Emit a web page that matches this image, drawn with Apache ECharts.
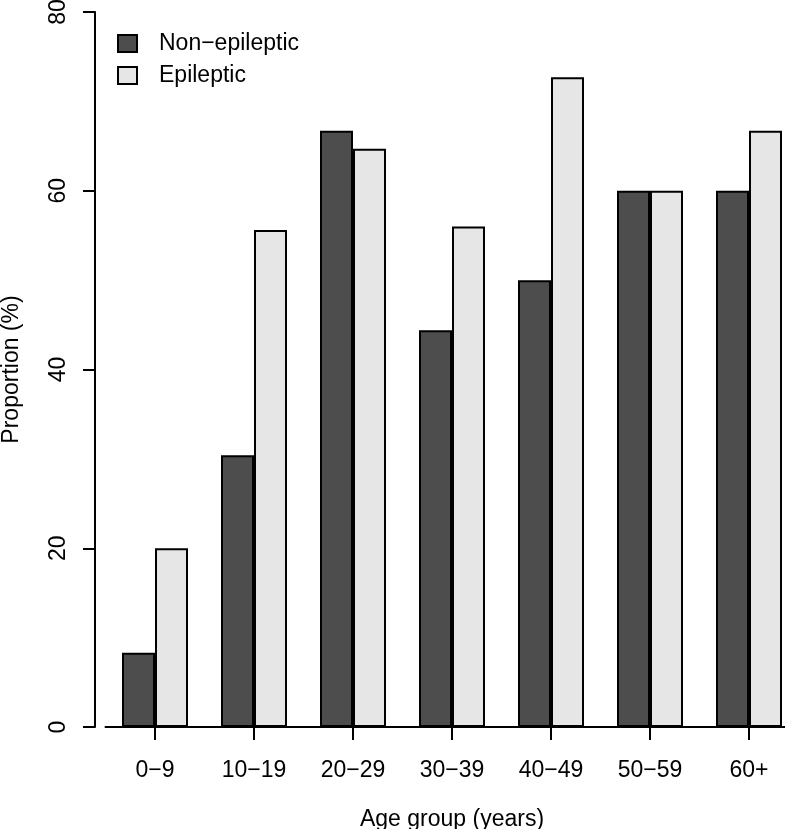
<!DOCTYPE html>
<html>
<head>
<meta charset="utf-8">
<script src="https://cdn.jsdelivr.net/npm/echarts@6/dist/echarts.min.js"></script>
<style>html,body{margin:0;padding:0;background:#fff}#c{width:785px;height:829px}</style>
</head>
<body>
<div id="c"></div>
<script>
var categories = ['0\u22129', '10\u221219', '20\u221229', '30\u221239', '40\u221249', '50\u221259', '60+'];
var nonEpileptic = [8.3, 30.4, 66.7, 44.4, 50.0, 60.0, 60.0];
var epileptic = [20.0, 55.6, 64.7, 56.0, 72.7, 60.0, 66.7];
var seriesNames = ['Non\u2212epileptic', 'Epileptic'];
var yTicks = [0, 20, 40, 60, 80];

var font = 'Liberation Sans, Arial, Helvetica, sans-serif';
var chart = echarts.init(document.getElementById('c'), null, {renderer: 'canvas'});
chart.setOption({
  animation: false,
  backgroundColor: '#ffffff',
  grid: {left: 105.5, top: 12, bottom: 102, right: -13.5, containLabel: false, outerBoundsMode: 'none'},
  legend: {
    orient: 'vertical', left: 117, top: 32, itemWidth: 19, itemHeight: 17, itemGap: 9,
    icon: 'rect', padding: 0,
    textStyle: {fontFamily: font, fontSize: 23, color: '#000', padding: [0, 0, 0, 17]},
    data: seriesNames
  },
  xAxis: {
    type: 'category', data: categories,
    axisLine: {show: true, lineStyle: {color: '#000', width: 2}},
    axisTick: {show: true, alignWithLabel: true, length: 13, lineStyle: {color: '#000', width: 2}},
    axisLabel: {fontFamily: font, fontSize: 23, color: '#000', margin: 32},
    name: 'Age group (years)', nameLocation: 'middle', nameGap: 81,
    nameTextStyle: {fontFamily: font, fontSize: 23, color: '#000'}
  },
  yAxis: {
    type: 'value', min: yTicks[0], max: yTicks[yTicks.length - 1], interval: 20,
    offset: 10.5,
    splitLine: {show: false},
    axisLine: {show: true, lineStyle: {color: '#000', width: 2}},
    axisTick: {show: true, length: 12, lineStyle: {color: '#000', width: 2}},
    axisLabel: {fontFamily: font, fontSize: 23, color: '#000', rotate: 90, margin: 25},
    name: 'Proportion (%)', nameLocation: 'middle', nameGap: 72, nameRotate: 90,
    nameTextStyle: {fontFamily: font, fontSize: 23, color: '#000'}
  },
  series: [
    {name: seriesNames[0], type: 'bar', data: nonEpileptic, barWidth: 33, barGap: '0%',
     itemStyle: {color: '#4d4d4d', borderColor: '#000', borderWidth: 2}},
    {name: seriesNames[1], type: 'bar', data: epileptic, barWidth: 33, barGap: '0%',
     itemStyle: {color: '#e6e6e6', borderColor: '#000', borderWidth: 2}}
  ]
});
</script>
</body>
</html>
